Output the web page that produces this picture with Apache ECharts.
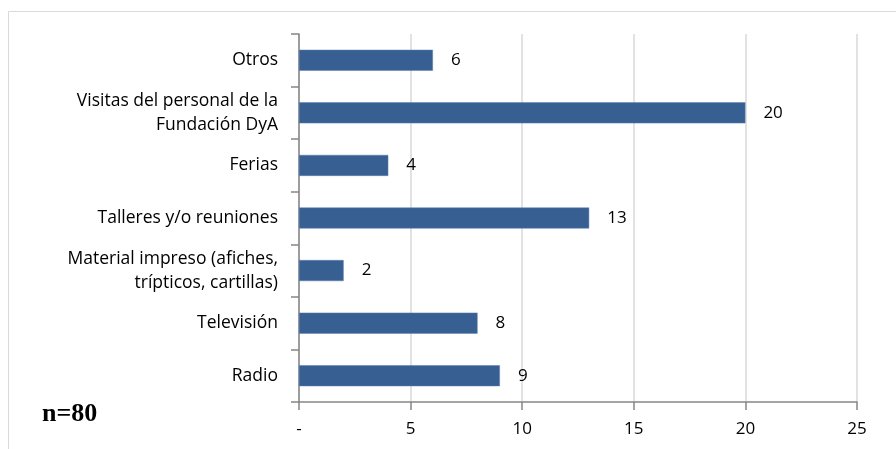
<!DOCTYPE html>
<html>
<head>
<meta charset="utf-8">
<script src="https://cdn.jsdelivr.net/npm/echarts@6/dist/echarts.min.js"></script>
<style>
  html, body { margin: 0; padding: 0; background: #fff; }
  #chart { width: 896px; height: 449px; }
</style>
</head>
<body>
<div id="chart"></div>
<script>
// categories bottom to top
var categories = [
  'Radio',
  'Televisión',
  'Material impreso (afiches,\ntrípticos, cartillas)',
  'Talleres y/o reuniones',
  'Ferias',
  'Visitas del personal de la\nFundación DyA',
  'Otros'
];
var values = [9, 8, 2, 13, 4, 20, 6];
var xTicks = { min: 0, max: 25, interval: 5 };

var myChart = echarts.init(document.getElementById('chart'));
var option;

option = {
  animation: false,
  textStyle: { fontFamily: 'Open Sans' },
  graphic: [
    {
      type: 'rect',
      shape: { x: 8.5, y: 11.5, width: 900, height: 450 },
      style: { fill: 'none', stroke: '#d9d9d9', lineWidth: 1 }
    },
    {
      type: 'text',
      left: 42,
      top: 401,
      style: {
        text: 'n=80',
        font: 'bold 26px "Liberation Serif"',
        fill: '#000'
      }
    }
  ],
  grid: {
    left: 299,
    right: 39,
    top: 34,
    bottom: 47
  },
  xAxis: {
    type: 'value',
    min: xTicks.min,
    max: xTicks.max,
    interval: xTicks.interval,
    axisLine: { show: true, lineStyle: { color: '#868686', width: 1.5 } },
    axisTick: { show: true, length: 8, lineStyle: { color: '#868686', width: 1.5 } },
    splitLine: { show: true, lineStyle: { color: '#d9d9d9', width: 1.5 } },
    axisLabel: {
      color: '#000',
      fontSize: 17,
      margin: 19,
      formatter: function (v) { return v === 0 ? '-' : v; }
    }
  },
  yAxis: {
    type: 'category',
    data: categories,
    axisLine: { show: true, lineStyle: { color: '#868686', width: 1.5 } },
    axisTick: { show: true, length: 8, lineStyle: { color: '#868686', width: 1.5 } },
    axisLabel: {
      color: '#000',
      fontSize: 17.5,
      margin: 21,
      lineHeight: 24,
      align: 'right'
    }
  },
  series: [
    {
      type: 'bar',
      data: values,
      barWidth: 21,
      itemStyle: { color: '#375f92', borderColor: '#5a7fae', borderWidth: 0.5 },
      label: {
        show: true,
        position: 'right',
        distance: 18,
        color: '#000',
        fontSize: 17
      }
    }
  ]
};

if (option && typeof option === 'object') {
  myChart.setOption(option);
}
</script>
</body>
</html>
